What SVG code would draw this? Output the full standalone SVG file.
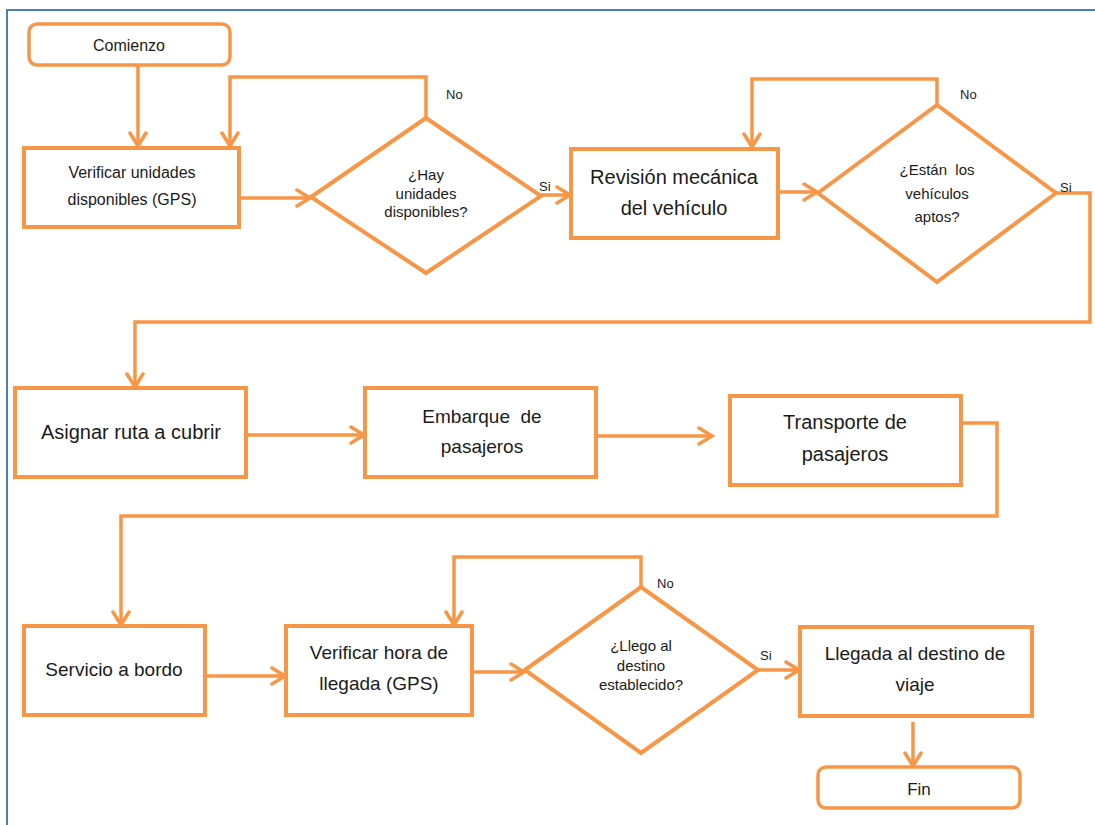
<svg xmlns="http://www.w3.org/2000/svg" width="1095" height="825" viewBox="0 0 1095 825">
  <defs>
    <style>
      .shape { fill: #ffffff; stroke: #f79646; stroke-width: 4; stroke-linejoin: miter; }
      .term { fill: #ffffff; stroke: #f79646; stroke-width: 3.5; }
      .conn { fill: none; stroke: #f79646; stroke-width: 3.5; stroke-linejoin: miter; }
      .lbl { font-family: "Liberation Sans", Arial, sans-serif; fill: #1b1b1b; text-anchor: middle; }
      .q { font-family: "Liberation Sans", Arial, sans-serif; fill: #1b1b1b; text-anchor: middle; font-size: 15px; }
      .yn { font-family: "Liberation Sans", Arial, sans-serif; fill: #1b1b1b; font-size: 13px; }
    </style>
    <marker id="arrow" markerUnits="userSpaceOnUse" markerWidth="18" markerHeight="20" viewBox="0 0 18 20" refX="15" refY="10" orient="auto">
      <path d="M2,2 L15,10 L2,18" fill="none" stroke="#f79646" stroke-width="3.5" stroke-linecap="round" stroke-linejoin="miter"/>
    </marker>
  </defs>

  <rect width="1095" height="825" fill="#ffffff"/>

  <!-- page frame -->
  <path d="M7,825 V10 H1095" fill="none" stroke="#4a7ebb" stroke-width="2"/>

  <!-- connectors -->
  <g id="connectors">
    <path class="conn" d="M138,66 V146" marker-end="url(#arrow)"/>
    <path class="conn" d="M426,118 V77 H230 V146" marker-end="url(#arrow)"/>
    <path class="conn" d="M240,198 H310" marker-end="url(#arrow)"/>
    <path class="conn" d="M541,195 H570" marker-end="url(#arrow)"/>
    <path class="conn" d="M937,105 V79 H752 V147" marker-end="url(#arrow)"/>
    <path class="conn" d="M778,192 H817" marker-end="url(#arrow)"/>
    <path class="conn" d="M1056,193 H1090 V322 H135 V387" marker-end="url(#arrow)"/>
    <path class="conn" d="M246,435 H364" marker-end="url(#arrow)"/>
    <path class="conn" d="M597,436 H712" marker-end="url(#arrow)"/>
    <path class="conn" d="M961,423 H997 V516 H121 V625" marker-end="url(#arrow)"/>
    <path class="conn" d="M205,676 H285" marker-end="url(#arrow)"/>
    <path class="conn" d="M641,587 V557 H454 V625" marker-end="url(#arrow)"/>
    <path class="conn" d="M472,672 H524" marker-end="url(#arrow)"/>
    <path class="conn" d="M758,670 H799" marker-end="url(#arrow)"/>
    <path class="conn" d="M913,722 V766" marker-end="url(#arrow)"/>
  </g>

  <!-- branch labels -->
  <g id="branch-labels">
    <text class="yn" x="446" y="99">No</text>
    <text class="yn" x="539" y="191">Si</text>
    <text class="yn" x="960" y="99">No</text>
    <text class="yn" x="1060" y="192">Si</text>
    <text class="yn" x="657" y="588">No</text>
    <text class="yn" x="760" y="660">Si</text>
  </g>

  <g id="comienzo">
    <rect class="term" x="29" y="24" width="201" height="41" rx="8"/>
    <text class="lbl" x="129" y="51" font-size="16">Comienzo</text>
  </g>

  <g id="verificar-unidades">
    <rect class="shape" x="24" y="148" width="215" height="79"/>
    <text class="lbl" x="132" y="178" font-size="16">Verificar unidades</text>
    <text class="lbl" x="132" y="205" font-size="16">disponibles (GPS)</text>
  </g>

  <g id="hay-unidades">
    <polygon class="shape" points="311,197 426,118 541,196 426,273"/>
    <text class="q" x="426" y="180">¿Hay</text>
    <text class="q" x="426" y="199">unidades</text>
    <text class="q" x="426" y="217">disponibles?</text>
  </g>

  <g id="revision-mecanica">
    <rect class="shape" x="571" y="149" width="207" height="89"/>
    <text class="lbl" x="674" y="184" font-size="20">Revisión mecánica</text>
    <text class="lbl" x="674" y="215" font-size="20">del vehículo</text>
  </g>

  <g id="vehiculos-aptos">
    <polygon class="shape" points="818,193 937,105 1056,193 937,282"/>
    <text class="q" x="937" y="175" style="white-space:pre">¿Están  los</text>
    <text class="q" x="937" y="199">vehículos</text>
    <text class="q" x="937" y="222">aptos?</text>
  </g>

  <g id="asignar-ruta">
    <rect class="shape" x="15" y="388" width="231" height="89"/>
    <text class="lbl" x="131" y="439" font-size="20">Asignar ruta a cubrir</text>
  </g>

  <g id="embarque">
    <rect class="shape" x="365" y="388" width="231" height="89"/>
    <text class="lbl" x="482" y="423" font-size="19" style="white-space:pre">Embarque  de</text>
    <text class="lbl" x="482" y="453" font-size="19">pasajeros</text>
  </g>

  <g id="transporte">
    <rect class="shape" x="730" y="396" width="231" height="89"/>
    <text class="lbl" x="845" y="429" font-size="20">Transporte de</text>
    <text class="lbl" x="845" y="461" font-size="20">pasajeros</text>
  </g>

  <g id="servicio">
    <rect class="shape" x="24" y="626" width="181" height="89"/>
    <text class="lbl" x="114" y="676" font-size="19">Servicio a bordo</text>
  </g>

  <g id="verificar-hora">
    <rect class="shape" x="286" y="626" width="186" height="89"/>
    <text class="lbl" x="379" y="659" font-size="19">Verificar hora de</text>
    <text class="lbl" x="379" y="690" font-size="19">llegada (GPS)</text>
  </g>

  <g id="llego-destino">
    <polygon class="shape" points="525,670 641,587 758,670 641,753"/>
    <text class="q" x="641" y="651">¿Llego al</text>
    <text class="q" x="641" y="671">destino</text>
    <text class="q" x="641" y="690">establecido?</text>
  </g>

  <g id="llegada">
    <rect class="shape" x="800" y="627" width="232" height="89"/>
    <text class="lbl" x="915" y="660" font-size="19">Llegada al destino de</text>
    <text class="lbl" x="915" y="691" font-size="19">viaje</text>
  </g>

  <g id="fin">
    <rect class="term" x="818" y="767" width="202" height="41" rx="8"/>
    <text class="lbl" x="919" y="795" font-size="17">Fin</text>
  </g>
</svg>
